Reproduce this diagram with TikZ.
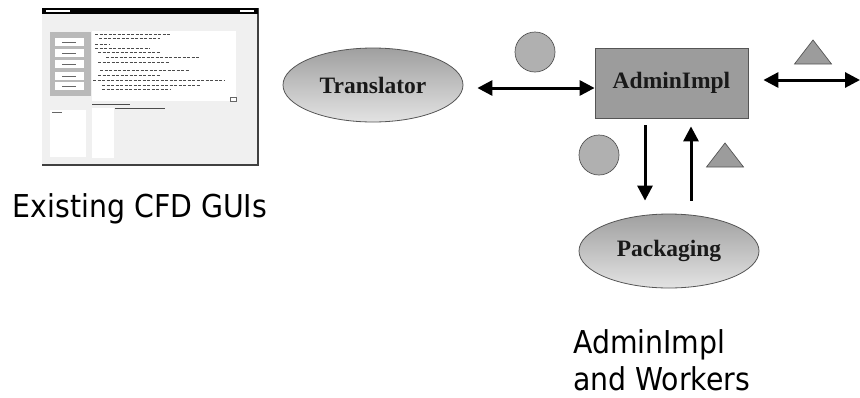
\documentclass[tikz,border=0pt]{standalone}
\usepackage{fontspec}
\setmainfont{Liberation Serif}
\newfontfamily\labelfont[FakeStretch=0.9]{DejaVu Sans}
\usetikzlibrary{arrows.meta,calc,shapes.geometric}

\definecolor{shapegray}{HTML}{9C9C9C}
\definecolor{edgegray}{HTML}{555555}

\tikzset{
  role/.style={ellipse, draw=edgegray, line width=0.8pt, minimum width=180pt,
    minimum height=74pt, inner sep=0pt, top color=gray!75, bottom color=gray!22,
    font=\bfseries\fontsize{23.5}{26}\selectfont, text=black!90},
  core/.style={rectangle, draw=edgegray, line width=0.8pt, fill=shapegray,
    minimum width=153pt, minimum height=70pt, inner sep=0pt,
    font=\bfseries\fontsize{23.5}{26}\selectfont, text=black!90},
  caption/.style={font=\labelfont\fontsize{31.5}{37}\selectfont, inner sep=0pt, text=black},
  msg/.style={line width=3pt, draw=black, -{Triangle[length=15pt,width=15pt]}},
  both/.style={msg, {Triangle[length=15pt,width=15pt]}-{Triangle[length=15pt,width=15pt]}},
  token/.style={circle, draw=edgegray, line width=0.7pt, fill=gray!62, minimum size=40pt, inner sep=0pt},
  reply/.pic={\filldraw[draw=edgegray, line width=0.7pt, fill=shapegray]
    (-18.5,12) -- (0,-12) -- (18.5,12) -- cycle;},
  txt/.style={line width=1pt, draw=black!70},
}

\begin{document}
\begin{tikzpicture}[x=1pt,y=-1pt]
\useasboundingbox (0,0) rectangle (860,397);

% --- screenshot of an existing GUI window ---
\fill[gray!12] (42,8) rectangle (258,165);
\draw[black!75, line width=1.5pt] (42,165) -- (258,165) -- (258,8);
\fill[black] (42,8) rectangle (258,14);
\fill[white] (46,10) rectangle (70,12);
\fill[white] (240,10) rectangle (254,12);
% button panel
\fill[gray!55] (50,32) rectangle (91,96);
\foreach \by in {42,53,64,76,86}
  \fill[white] (55,\by-4) rectangle (84,\by+4);
\foreach \by in {42,53,64,76,86}
  \draw[black!60, line width=1pt] (62,\by) -- (76,\by);
% text area
\fill[white] (92,31) rectangle (236,101);
\foreach \ya/\xa/\xb in {34/95/170, 38/99/160, 44/95/110, 48/95/150, 52/98/160,
    57/106/200, 62/98/170, 70/100/190, 75/98/160, 80/93/225, 85/102/200, 89/102/170}
  \draw[txt, dash pattern=on 3pt off 1.5pt] (\xa,\ya) -- (\xb,\ya);
\draw[black!60, line width=0.8pt] (230,97) rectangle (236,101);
\draw[black!70, line width=1pt] (92,104) -- (130,104);
\draw[black!70, line width=1pt] (115,108) -- (165,108);
% lower panels
\fill[white] (50,110) rectangle (86,157);
\draw[black!60, line width=0.8pt] (52,112) -- (62,112);
\fill[white] (92,108) rectangle (114,158);

\node[caption, anchor=base] (gui) at (140,217) {Existing CFD GUIs};

% --- AdminImpl and its workers ---
\node[role] (tr) at (373,85) {Translator};
\node[core] (ad) at (671.5,83) {AdminImpl};
\node[role] (pk) at (669,251) {Packaging};

\node[token] (c1) at (535,52) {};
\node[token] (c2) at (599,155) {};
\pic at (813,52) {reply};
\pic at (725,155) {reply};

\coordinate (out) at (860,80);

\draw[both] ($(tr.east)+(14,3)$) -- ($(ad.west)+(0,5)$);
\draw[both] ($(ad.east)+(15,-3)$) -- (out);
\draw[msg] ($(ad.south)+(-26.5,7)$) -- ($(pk.north)+(-24,-13)$);
\draw[msg] ($(pk.north)+(22,-13)$) -- ($(ad.south)+(19.5,8)$);

\node[caption, anchor=base west, align=left] (lbl) at (573,390) {AdminImpl\\and Workers};
\end{tikzpicture}
\end{document}
